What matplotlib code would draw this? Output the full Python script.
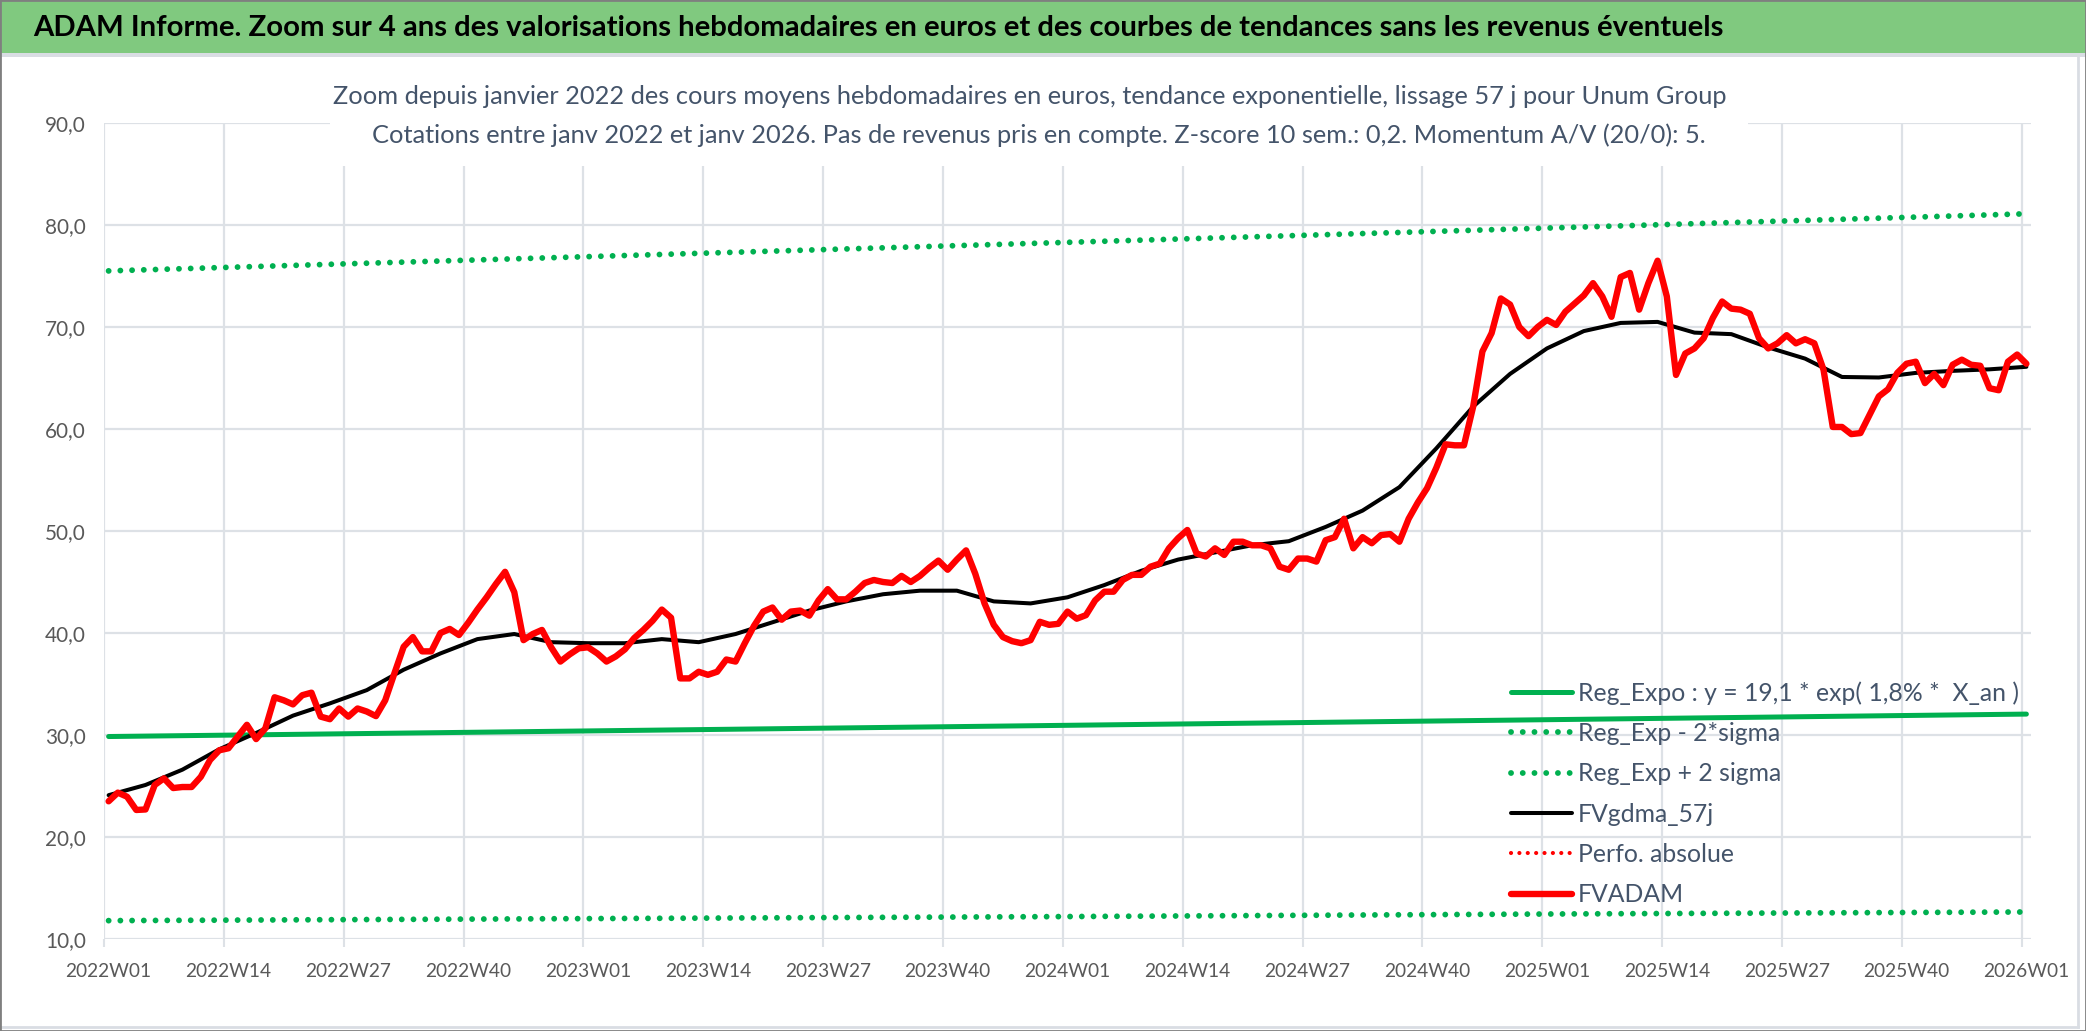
import matplotlib
matplotlib.use("Agg")
import matplotlib.pyplot as plt
from matplotlib.patches import Rectangle
from matplotlib.lines import Line2D

# ---------------------------------------------------------------------------
# Data (weekly, 2022W01 .. 2026W01)
# ---------------------------------------------------------------------------
years = [2022, 2023, 2024, 2025]
weeks_per_year = 52
tick_weeks = ["W01", "W14", "W27", "W40"]

fvadam = [
    23.5, 24.35, 23.95, 22.65, 22.7, 25.1, 25.75, 24.8, 24.9, 24.9,
    25.9, 27.55, 28.5, 28.7, 29.85, 31.0, 29.6, 30.65, 33.7, 33.4,
    33.0, 33.9, 34.15, 31.8, 31.55, 32.6, 31.8, 32.6, 32.3, 31.85,
    33.4, 36.05, 38.65, 39.6, 38.2, 38.2, 40.0, 40.4, 39.8, 41.0,
    42.3, 43.5, 44.8, 46.0, 44.0, 39.3, 39.9, 40.3, 38.6, 37.2,
    37.9, 38.5, 38.6, 38.0, 37.2, 37.7, 38.4, 39.5, 40.3, 41.2,
    42.3, 41.5, 35.55, 35.55, 36.2, 35.9, 36.2, 37.4, 37.2, 39.0,
    40.7, 42.1, 42.5, 41.3, 42.1, 42.2, 41.7, 43.2, 44.3, 43.3,
    43.3, 44.05, 44.9, 45.2, 45.0, 44.9, 45.6, 45.0, 45.6, 46.4,
    47.1, 46.2, 47.2, 48.1, 45.8, 42.9, 40.8, 39.6, 39.2, 39.0,
    39.3, 41.1, 40.8, 40.9, 42.1, 41.4, 41.75, 43.2, 44.05, 44.05,
    45.2, 45.7, 45.7, 46.5, 46.8, 48.3, 49.3, 50.1, 47.8, 47.5,
    48.3, 47.65, 48.95, 48.95, 48.6, 48.6, 48.3, 46.5, 46.2, 47.3,
    47.3, 47.0, 49.1, 49.4, 51.2, 48.3, 49.4, 48.8, 49.6, 49.7,
    48.95, 51.2, 52.8, 54.2, 56.2, 58.5, 58.4, 58.4, 62.2, 67.6,
    69.4, 72.8, 72.2, 70.0, 69.1, 70.0, 70.7, 70.2, 71.5, 72.3,
    73.1, 74.3, 73.0, 71.0, 74.9, 75.3, 71.7, 74.3, 76.5, 73.0,
    65.3, 67.4, 67.9, 68.9, 70.9, 72.5, 71.8, 71.7, 71.3, 68.9,
    67.9, 68.4, 69.2, 68.4, 68.8, 68.4, 65.8, 60.2, 60.2, 59.5,
    59.6, 61.4, 63.2, 63.9, 65.5, 66.4, 66.6, 64.5, 65.4, 64.3,
    66.3, 66.8, 66.3, 66.2, 64.0, 63.8, 66.6, 67.3, 66.4,
]

# smoothed curve, read every 4 weeks
gdma_weeks = list(range(0, 209, 4))
gdma_57j = [
    24.1, 25.1, 26.6, 28.6, 30.2, 31.9, 33.1, 34.4, 36.4, 38.0,
    39.4, 39.9, 39.1, 39.0, 39.0, 39.4, 39.1, 39.9, 41.05, 42.2,
    43.1, 43.8, 44.15, 44.15, 43.1, 42.9, 43.5, 44.7, 46.1, 47.2,
    47.9, 48.6, 49.0, 50.4, 52.0, 54.3, 58.1, 62.2, 65.4, 67.9,
    69.6, 70.4, 70.5, 69.45, 69.3, 68.0, 66.9, 65.1, 65.05, 65.5,
    65.7, 65.85, 66.1,
]

# trend curves, read at each new year
trend_weeks = [0, 52, 104, 156, 208]
reg_expo = [29.85, 30.4, 30.95, 31.5, 32.05]
reg_minus = [11.8, 12.0, 12.2, 12.45, 12.65]
reg_plus = [75.5, 76.9, 78.3, 79.7, 81.1]
perfo_abs = []

weeks = list(range(len(fvadam)))
tick_pos = [y * weeks_per_year + k * 13 for y in range(len(years)) for k in range(4)]
tick_pos.append(len(years) * weeks_per_year)
tick_lab = [f"{yr}{w}" for yr in years for w in tick_weeks] + ["2026W01"]

# ---------------------------------------------------------------------------
W, H = 2086, 1031
plt.rcParams["font.family"] = ["Lato", "DejaVu Sans"]
SLATE = "#44546A"
GRID = "#DDE1E6"

fig = plt.figure(figsize=(W / 100, H / 100), dpi=100)
fig.patch.set_facecolor("white")
renderer = fig.canvas.get_renderer()


def fx(px):
    return px / W


def fy(py):
    return 1 - py / H


def fit_size(text, target_px, weight="normal", size=20):
    # font size giving the text a given width in pixels
    t = fig.text(0, 0, text, fontsize=size, fontweight=weight)
    w = t.get_window_extent(renderer).width
    t.remove()
    return size * target_px / w


ax = fig.add_axes([fx(104), fy(939), fx(2031) - fx(104), fy(123) - fy(939)])

ax.plot(trend_weeks, reg_minus, color="#00B050", lw=4.2, ls=(0, (0.01, 2.0)),
        dash_capstyle="round", label="Reg_Exp - 2*sigma", zorder=3)
ax.plot(trend_weeks, reg_plus, color="#00B050", lw=4.2, ls=(0, (0.01, 2.0)),
        dash_capstyle="round", label="Reg_Exp + 2 sigma", zorder=3)
ax.plot(trend_weeks, reg_expo, color="#00B050", lw=3.6, solid_capstyle="round",
        label="Reg_Expo : y = 19,1 * exp( 1,8% *  X_an )", zorder=3)
ax.plot(gdma_weeks, gdma_57j, color="black", lw=2.9, solid_capstyle="round",
        label="FVgdma_57j", zorder=4)
ax.plot(weeks[:len(perfo_abs)], perfo_abs, color="#FF0000", lw=3.0,
        ls=(0, (0.01, 2.0)), dash_capstyle="round", label="Perfo. absolue")
ax.plot(weeks, fvadam, color="#FF0000", lw=4.6, solid_capstyle="round",
        solid_joinstyle="round", label="FVADAM", zorder=5)

ax.set_xlim(-0.5, len(fvadam) - 0.5)
ax.set_ylim(10, 90)
ax.set_yticks(range(10, 91, 10))
ax.set_yticklabels([f"{v},0" for v in range(10, 91, 10)])
ax.set_xticks(tick_pos)
ax.set_xticklabels(tick_lab)
ax.set_xticks([p - 0.5 for p in tick_pos], minor=True)
xl_size = fit_size("2022W01", 86)
yl_size = fit_size("90,0", 41)
ax.tick_params(axis="x", which="major", length=0, pad=17, labelsize=xl_size,
               labelcolor="#595959")
ax.tick_params(axis="x", which="minor", length=6, width=1.5, color=GRID)
ax.tick_params(axis="y", length=0, pad=13, labelsize=yl_size, labelcolor="#595959")
ax.grid(True, axis="y", color=GRID, lw=1.6, zorder=0)
ax.grid(True, axis="x", which="minor", color=GRID, lw=1.6, zorder=0)
ax.set_axisbelow(True)
for s in ax.spines.values():
    s.set_visible(False)

# legend, in the order of the reference
order = ["Reg_Expo : y = 19,1 * exp( 1,8% *  X_an )", "Reg_Exp - 2*sigma",
         "Reg_Exp + 2 sigma", "FVgdma_57j", "Perfo. absolue", "FVADAM"]
lg_size = fit_size(order[0], 440)
lg_px = lg_size * 100 / 72
hd = {h.get_label(): h for h in ax.get_lines()}
leg = ax.legend([hd[k] for k in order], order, loc="upper left",
                bbox_to_anchor=(fx(1511), fy(681)), bbox_transform=fig.transFigure,
                frameon=False, fontsize=lg_size, handlelength=61 / lg_px,
                handletextpad=6 / lg_px, labelspacing=(47 - 1.2 * lg_px) / lg_px,
                borderpad=0, borderaxespad=0)
for t in leg.get_texts():
    t.set_color(SLATE)

# title band
fig.patches.append(Rectangle((0, fy(53)), 1, 1 - fy(53), transform=fig.transFigure,
                             facecolor="#80C97F", edgecolor="none", zorder=1))
fig.patches.append(Rectangle((0, fy(57)), 1, fy(53) - fy(57), transform=fig.transFigure,
                             facecolor="#D9DDE3", edgecolor="none", zorder=1))
title = ("ADAM Informe. Zoom sur 4 ans des valorisations hebdomadaires "
         "en euros et des courbes de tendances sans les revenus éventuels")
fig.text(fx(33), fy(28), title, fontsize=fit_size(title, 1695, "bold"),
         fontweight="bold", color="black", ha="left", va="center", zorder=3)

# chart title box
fig.patches.append(Rectangle((fx(330), fy(166)), fx(1748) - fx(330), fy(62) - fy(166),
                             transform=fig.transFigure, facecolor="white",
                             edgecolor="none", zorder=1))
sub1 = ("Zoom depuis janvier 2022 des cours moyens hebdomadaires en "
        "euros, tendance exponentielle, lissage 57 j pour Unum Group")
sub2 = ("Cotations entre janv 2022 et janv 2026. Pas de revenus "
        "pris en compte. Z-score 10 sem.: 0,2. Momentum A/V (20/0): 5.")
sub_size = fit_size(sub1, 1400)
fig.text(fx(1030), fy(97), sub1, fontsize=sub_size, color=SLATE,
         ha="center", va="center", zorder=3)
fig.text(fx(1039), fy(135), sub2, fontsize=sub_size, color=SLATE,
         ha="center", va="center", zorder=3)

# chart area border
fig.add_artist(Line2D([fx(2), fx(2078)], [fy(1027), fy(1027)], color="#D9DDE3", lw=2))
fig.add_artist(Line2D([fx(2078), fx(2078)], [fy(57), fy(1027)], color="#D9DDE3", lw=2))
fig.patches.append(Rectangle((0, 0), 1, 1, transform=fig.transFigure, fill=False,
                             edgecolor="#7F7F7F", lw=2, zorder=4))

fig.savefig("out.png", dpi=100)
